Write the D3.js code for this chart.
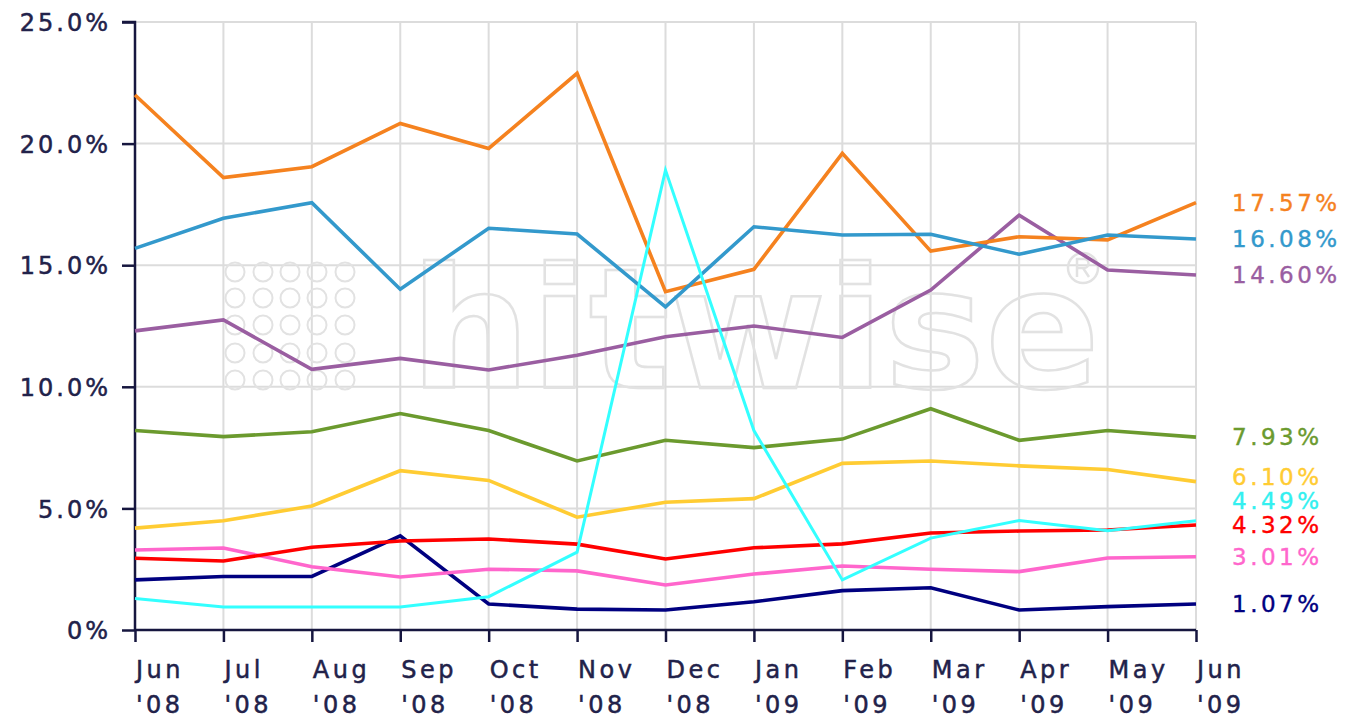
<!DOCTYPE html>
<html>
<head>
<meta charset="utf-8">
<script src="https://cdn.jsdelivr.net/npm/d3@7"></script>
<style>
  html, body { margin: 0; padding: 0; background: #ffffff; }
  svg { display: block; }
  text { font-family: "DejaVu Sans", Verdana, sans-serif; }
</style>
</head>
<body>
<svg id="chart" width="1345" height="719"></svg>
<script>
// ---- Data ----
const months = ["Jun '08","Jul '08","Aug '08","Sep '08","Oct '08","Nov '08","Dec '08","Jan '09","Feb '09","Mar '09","Apr '09","May '09","Jun '09"];
const yTicks = [0, 5, 10, 15, 20, 25];
const yTickLabels = ["0%", "5.0%", "10.0%", "15.0%", "20.0%", "25.0%"];

const orangeValues = [22.0, 18.6, 19.05, 20.83, 19.8, 22.89, 13.91, 14.83, 19.6, 15.58, 16.17, 16.04, 17.57];
const blueValues   = [15.69, 16.93, 17.57, 14.01, 16.52, 16.28, 13.29, 16.58, 16.24, 16.27, 15.45, 16.24, 16.08];
const purpleValues = [12.3, 12.75, 10.72, 11.17, 10.69, 11.3, 12.06, 12.5, 12.03, 13.98, 17.06, 14.8, 14.60];
const greenValues  = [8.2, 7.95, 8.15, 8.9, 8.2, 6.95, 7.8, 7.5, 7.85, 9.1, 7.8, 8.2, 7.93];
const yellowValues = [4.19, 4.49, 5.1, 6.55, 6.15, 4.64, 5.25, 5.4, 6.85, 6.95, 6.75, 6.6, 6.10];
const cyanValues   = [1.3, 0.95, 0.95, 0.95, 1.37, 3.2, 18.91, 8.2, 2.06, 3.78, 4.5, 4.08, 4.49];
const redValues    = [2.95, 2.84, 3.4, 3.66, 3.74, 3.53, 2.92, 3.38, 3.54, 3.99, 4.07, 4.11, 4.32];
const pinkValues   = [3.29, 3.37, 2.6, 2.18, 2.5, 2.43, 1.85, 2.3, 2.63, 2.5, 2.4, 2.96, 3.01];
const navyValues   = [2.06, 2.2, 2.2, 3.87, 1.07, 0.86, 0.82, 1.16, 1.62, 1.74, 0.82, 0.96, 1.07];

const seriesNames  = ["orange", "blue", "purple", "green", "yellow", "cyan", "red", "pink", "navy"];
const seriesColors = ["#f5821f", "#3399cc", "#9a5ea1", "#6b9a2e", "#ffcc33", "#33ffff", "#ff0000", "#ff66cc", "#000080"];
const seriesLabels = ["17.57%", "16.08%", "14.60%", "7.93%", "6.10%", "4.49%", "4.32%", "3.01%", "1.07%"];
const seriesValues = [orangeValues, blueValues, purpleValues, greenValues, yellowValues, cyanValues, redValues, pinkValues, navyValues];

// ---- Layout ----
const svg = d3.select("#chart");
const plotLeft = 135, plotRight = 1196, plotTop = 22, plotBottom = 630;
const axisColor = "#16163f";
const textColor = "#22224a";

const x = d3.scalePoint().domain(months).range([plotLeft, plotRight]);
const y = d3.scaleLinear().domain([0, 25]).range([plotBottom, plotTop]);

// ---- Grid ----
const grid = svg.append("g");
grid.selectAll("line.v").data(months).join("line")
  .attr("x1", d => x(d)).attr("x2", d => x(d))
  .attr("y1", plotTop).attr("y2", plotBottom)
  .attr("stroke", "#dcdcdc").attr("stroke-width", 2);
grid.selectAll("line.h").data(yTicks).join("line")
  .attr("x1", plotLeft).attr("x2", plotRight)
  .attr("y1", d => y(d)).attr("y2", d => y(d))
  .attr("stroke", "#dcdcdc").attr("stroke-width", 2);

// ---- Watermark ----
const wm = svg.append("g").attr("fill", "none").attr("stroke", "#e2e2e2").attr("stroke-width", 2);
const dotCols = [235, 263, 290, 317, 345];
const dotRows = [272, 298, 325, 353, 380];
dotRows.forEach(cy => dotCols.forEach(cx => {
  wm.append("circle").attr("cx", cx).attr("cy", cy).attr("r", 9.5);
}));
wm.append("text").text("hitwise")
  .attr("x", 410).attr("y", 388)
  .attr("font-size", 168).attr("font-weight", "bold")
  .attr("textLength", 690).attr("lengthAdjust", "spacingAndGlyphs")
  .attr("fill", "none").attr("stroke", "#e2e2e2").attr("stroke-width", 2.5);
// registered mark drawn as shapes
wm.append("circle").attr("cx", 1083).attr("cy", 268).attr("r", 15).attr("stroke-width", 2.5);
wm.append("path").attr("stroke-width", 2.5)
  .attr("d", "M1077,277V259H1084a4.5,4.5 0 0 1 0,9H1077M1083,268L1089,277");

// ---- Axes ----
const yAxis = d3.axisLeft(y).tickValues(yTicks).tickFormat((d, i) => yTickLabels[i]).tickSize(13).tickPadding(11);
const gy = svg.append("g").attr("transform", `translate(${plotLeft},0)`).call(yAxis);
gy.select(".domain").attr("stroke", axisColor).attr("stroke-width", 2.5).attr("d", `M-13,${plotTop}H0V${plotBottom}`);
gy.selectAll(".tick line").attr("stroke", axisColor).attr("stroke-width", 2.5);
gy.selectAll(".tick text").attr("fill", textColor).attr("font-size", 24)
  .attr("font-family", "DejaVu Sans, Verdana, sans-serif")
  .attr("stroke", textColor).attr("stroke-width", 0.5)
  .attr("letter-spacing", 3).attr("dy", "0.36em");

const xAxis = d3.axisBottom(x).tickSize(12).tickFormat("");
const gx = svg.append("g").attr("transform", `translate(0,${plotBottom})`).call(xAxis);
gx.select(".domain").attr("stroke", axisColor).attr("stroke-width", 2.5).attr("d", `M${plotLeft},0H${plotRight}`);
gx.selectAll(".tick line").attr("stroke", axisColor).attr("stroke-width", 2.5);

const xl = svg.append("g");
months.forEach(m => {
  const parts = m.split(" ");
  const t = xl.append("text").attr("x", x(m) + 1).attr("y", 678)
    .attr("fill", textColor).attr("stroke", textColor).attr("stroke-width", 0.5)
    .attr("font-size", 24).attr("letter-spacing", 3.5);
  t.append("tspan").attr("x", x(m) + 1).attr("y", 678).text(parts[0]);
  t.append("tspan").attr("x", x(m) + 1).attr("y", 713).text(parts[1]);
});

// ---- Lines ----
const line = d3.line().x((d, i) => x(months[i])).y(d => y(d));
const lines = svg.append("g").attr("fill", "none").attr("stroke-linejoin", "miter");
const drawOrder = [8, 7, 6, 4, 3, 2, 0, 1, 5];
drawOrder.forEach(i => {
  lines.append("path").datum(seriesValues[i])
    .attr("d", line)
    .attr("stroke", seriesColors[i])
    .attr("stroke-width", seriesNames[i] === "cyan" ? 3 : 3.6);
});

// ---- End labels (dodged bottom-up) ----
const idx = seriesValues.map((v, i) => i).sort((a, b) => seriesValues[a][12] - seriesValues[b][12]);
const labelY = {};
let prev = Infinity;
idx.forEach(i => {
  let ly = y(seriesValues[i][12]);
  if (ly > prev - 24) ly = prev - 24;
  labelY[i] = ly;
  prev = ly;
});
const lg = svg.append("g");
seriesValues.forEach((v, i) => {
  const c = seriesColors[i] === "#33ffff" ? "#33f0f0" : seriesColors[i];
  lg.append("text").text(seriesLabels[i])
    .attr("x", 1232).attr("y", labelY[i]).attr("dy", "0.36em")
    .attr("fill", c).attr("stroke", c).attr("stroke-width", 0.4)
    .attr("font-size", 23).attr("letter-spacing", 3.5);
});
</script>
</body>
</html>
